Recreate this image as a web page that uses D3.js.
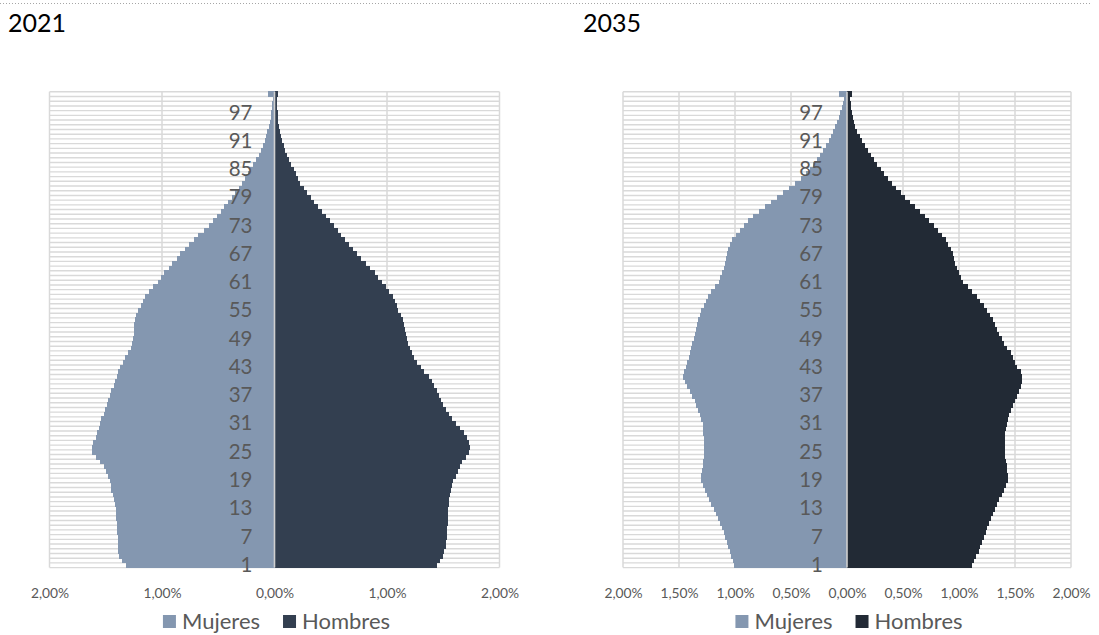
<!DOCTYPE html>
<html>
<head>
<meta charset="utf-8">
<script src="https://cdn.jsdelivr.net/npm/d3@7"></script>
<style>
  body { margin: 0; background: #fff; }
  svg { display: block; font-family: Lato, "Open Sans", sans-serif; }
</style>
</head>
<body>
<svg id="chart" width="1099" height="635"></svg>
<script>
// age groups, bottom (1) to top (101)
const ages = d3.range(1, 102).map(String);
const ageTicks = ["1", "7", "13", "19", "25", "31", "37", "43", "49", "55", "61", "67", "73", "79", "85", "91", "97"];
const seriesNames = ["Mujeres", "Hombres"];

// share of population, %
const mujeres2021 = [
  1.32, 1.36, 1.38, 1.39, 1.39, 1.39, 1.39, 1.40, 1.40, 1.40,
  1.41, 1.41, 1.41, 1.42, 1.43, 1.44, 1.45, 1.45, 1.46, 1.48,
  1.50, 1.52, 1.55, 1.59, 1.62, 1.62, 1.61, 1.59, 1.58, 1.56,
  1.55, 1.54, 1.52, 1.51, 1.49, 1.48, 1.46, 1.45, 1.43, 1.42,
  1.40, 1.39, 1.37, 1.35, 1.33, 1.30, 1.28, 1.27, 1.26, 1.25,
  1.25, 1.25, 1.24, 1.23, 1.21, 1.19, 1.17, 1.15, 1.12, 1.08,
  1.04, 1.01, 0.98, 0.94, 0.91, 0.87, 0.84, 0.80, 0.76, 0.72,
  0.68, 0.63, 0.585, 0.55, 0.51, 0.48, 0.45, 0.41, 0.38, 0.35,
  0.32, 0.29, 0.265, 0.24, 0.215, 0.19, 0.165, 0.14, 0.12, 0.10,
  0.087, 0.075, 0.063, 0.052, 0.043, 0.035, 0.028, 0.022, 0.018, 0.015,
  0.058
];
const hombres2021 = [
  1.44, 1.47, 1.50, 1.51, 1.52, 1.52, 1.53, 1.53, 1.53, 1.54,
  1.54, 1.54, 1.54, 1.55, 1.55, 1.56, 1.57, 1.58, 1.59, 1.61,
  1.63, 1.65, 1.67, 1.70, 1.73, 1.74, 1.73, 1.71, 1.68, 1.65,
  1.61, 1.58, 1.55, 1.52, 1.50, 1.48, 1.46, 1.44, 1.42, 1.40,
  1.37, 1.33, 1.30, 1.27, 1.24, 1.22, 1.20, 1.19, 1.18, 1.17,
  1.16, 1.15, 1.14, 1.12, 1.10, 1.09, 1.07, 1.05, 1.02, 0.99,
  0.955, 0.92, 0.89, 0.85, 0.81, 0.77, 0.73, 0.70, 0.66, 0.63,
  0.59, 0.56, 0.526, 0.49, 0.455, 0.42, 0.385, 0.35, 0.32, 0.29,
  0.26, 0.23, 0.21, 0.19, 0.17, 0.15, 0.13, 0.11, 0.095, 0.08,
  0.067, 0.057, 0.048, 0.04, 0.035, 0.031, 0.028, 0.025, 0.023, 0.022,
  0.028
];
const mujeres2035 = [
  1.006, 1.02, 1.035, 1.048, 1.06, 1.073, 1.086, 1.10, 1.115, 1.13,
  1.15, 1.17, 1.19, 1.21, 1.23, 1.25, 1.27, 1.29, 1.30, 1.30,
  1.295, 1.29, 1.285, 1.28, 1.28, 1.28, 1.28, 1.28, 1.285, 1.29,
  1.29, 1.30, 1.315, 1.33, 1.345, 1.36, 1.38, 1.40, 1.43, 1.45,
  1.46, 1.455, 1.44, 1.43, 1.415, 1.40, 1.39, 1.38, 1.37, 1.36,
  1.35, 1.34, 1.33, 1.315, 1.30, 1.28, 1.26, 1.24, 1.21, 1.18,
  1.146, 1.13, 1.115, 1.10, 1.09, 1.08, 1.07, 1.06, 1.045, 1.03,
  0.99, 0.955, 0.92, 0.88, 0.835, 0.79, 0.735, 0.68, 0.625, 0.57,
  0.515, 0.46, 0.415, 0.37, 0.33, 0.30, 0.27, 0.24, 0.215, 0.19,
  0.164, 0.143, 0.123, 0.104, 0.088, 0.073, 0.06, 0.048, 0.038, 0.03,
  0.074
];
const hombres2035 = [
  1.116, 1.136, 1.156, 1.176, 1.19, 1.205, 1.22, 1.237, 1.253, 1.27,
  1.287, 1.303, 1.32, 1.34, 1.36, 1.38, 1.40, 1.42, 1.44, 1.435,
  1.43, 1.425, 1.42, 1.415, 1.41, 1.41, 1.41, 1.41, 1.415, 1.42,
  1.43, 1.44, 1.45, 1.46, 1.48, 1.50, 1.52, 1.535, 1.55, 1.56,
  1.56, 1.55, 1.52, 1.50, 1.48, 1.46, 1.43, 1.405, 1.38, 1.36,
  1.34, 1.32, 1.30, 1.275, 1.25, 1.22, 1.19, 1.16, 1.12, 1.08,
  1.04, 1.02, 1.00, 0.98, 0.965, 0.955, 0.946, 0.925, 0.905, 0.88,
  0.845, 0.81, 0.774, 0.735, 0.695, 0.655, 0.61, 0.565, 0.52, 0.48,
  0.44, 0.40, 0.365, 0.33, 0.30, 0.27, 0.24, 0.21, 0.185, 0.16,
  0.134, 0.113, 0.093, 0.074, 0.063, 0.054, 0.045, 0.04, 0.035, 0.03,
  0.045
];

const ticks2021 = [-2, -1, 0, 1, 2];
const ticks2035 = [-2, -1.5, -1, -0.5, 0, 0.5, 1, 1.5, 2];

const PLOT_TOP = 91.8;
const PLOT_BOTTOM = 567.6;
const GRID = "#d9d9d9";
const TEXT = "#595959";

const svg = d3.select("#chart");

// dotted page edge at the top
svg.append("line")
  .attr("x1", 0).attr("x2", 1092)
  .attr("y1", 3.5).attr("y2", 3.5)
  .attr("stroke", "#a6a6a6")
  .attr("stroke-width", 1)
  .attr("stroke-dasharray", "1,2");

const pct = d3.format(".2f");
const fmtPct = (d) => pct(Math.abs(d)).replace(".", ",") + "%";

function drawPyramid(cfg) {
  const x = d3.scaleLinear().domain([-2, 2]).range([cfg.left, cfg.right]);
  const y = d3.scaleBand().domain(ages).range([PLOT_BOTTOM, PLOT_TOP]).padding(0);
  const bw = y.bandwidth();
  const g = svg.append("g");

  // title
  g.append("text")
    .attr("x", cfg.titleX).attr("y", 32)
    .attr("font-size", 25)
    .attr("fill", "#000")
    .text(cfg.title);

  // horizontal gridlines, one per category boundary
  const bounds = ages.map((a) => y(a)).concat([y(ages[0]) + bw]);
  g.append("g").selectAll("line")
    .data(bounds)
    .join("line")
    .attr("x1", x(-2)).attr("x2", x(2))
    .attr("y1", (d) => d).attr("y2", (d) => d)
    .attr("stroke", GRID).attr("stroke-width", 1.4);

  // vertical gridlines
  g.append("g").selectAll("line")
    .data(cfg.ticks)
    .join("line")
    .attr("x1", (d) => x(d)).attr("x2", (d) => x(d))
    .attr("y1", PLOT_TOP).attr("y2", PLOT_BOTTOM)
    .attr("stroke", GRID).attr("stroke-width", 1.5);

  // bars (crisp edges so neighbouring bars join without seams)
  g.append("g").attr("shape-rendering", "crispEdges")
    .selectAll("rect")
    .data(cfg.women)
    .join("rect")
    .attr("x", (d) => x(-d))
    .attr("y", (d, i) => y(ages[i]) - 0.5)
    .attr("width", (d) => x(0) - x(-d))
    .attr("height", bw + 1)
    .attr("fill", cfg.colors[0]);

  g.append("g").attr("shape-rendering", "crispEdges")
    .selectAll("rect")
    .data(cfg.men)
    .join("rect")
    .attr("x", x(0))
    .attr("y", (d, i) => y(ages[i]) - 0.5)
    .attr("width", (d) => x(d) - x(0))
    .attr("height", bw + 1)
    .attr("fill", cfg.colors[1]);

  // axis line at 0
  g.append("line")
    .attr("x1", x(0)).attr("x2", x(0))
    .attr("y1", PLOT_TOP).attr("y2", PLOT_BOTTOM)
    .attr("stroke", "#d0d0d0").attr("stroke-width", 1.6);

  // age labels next to the axis
  const yAxis = g.append("g")
    .attr("transform", `translate(${x(0)},0)`)
    .call(d3.axisLeft(y).tickValues(ageTicks).tickSize(0).tickPadding(cfg.labelPad));
  yAxis.select(".domain").remove();
  yAxis.selectAll("text")
    .attr("font-size", 20.5)
    .attr("font-family", "Lato, sans-serif")
    .attr("fill", TEXT);

  // value axis
  const xAxis = g.append("g")
    .attr("transform", `translate(0,${PLOT_BOTTOM})`)
    .call(d3.axisBottom(x).tickValues(cfg.ticks).tickFormat(fmtPct).tickSize(0));
  xAxis.select(".domain").remove();
  xAxis.selectAll("text")
    .attr("y", 30.5).attr("dy", 0)
    .attr("font-size", 13.8)
    .attr("font-family", "Lato, sans-serif")
    .attr("fill", TEXT);

  // legend, centred under the plot
  const leg = g.append("g").attr("transform", "translate(0,621.5)");
  const items = leg.selectAll("g")
    .data(seriesNames)
    .join("g");
  items.append("rect")
    .attr("y", -6.5).attr("width", 13).attr("height", 13)
    .attr("fill", (d, i) => cfg.colors[i]);
  items.append("text")
    .attr("x", 19).attr("y", 7.5)
    .attr("font-size", 22)
    .attr("fill", TEXT)
    .text((d) => d);
  let off = 0;
  const offs = [];
  items.each(function () {
    offs.push(off);
    off += 19 + this.querySelector("text").getComputedTextLength() + 23;
  });
  const total = off - 23;
  const start = x(0) + 2 - total / 2;
  items.attr("transform", (d, i) => `translate(${start + offs[i]},0)`);
}

drawPyramid({
  title: "2021", titleX: 8,
  left: 49.5, right: 499.5,
  ticks: ticks2021, labelPad: 22,
  women: mujeres2021, men: hombres2021,
  colors: ["#8497b0", "#333f50"]
});

drawPyramid({
  title: "2035", titleX: 583,
  left: 623, right: 1071,
  ticks: ticks2035, labelPad: 24,
  women: mujeres2035, men: hombres2035,
  colors: ["#8497b0", "#222a35"]
});
</script>
</body>
</html>
